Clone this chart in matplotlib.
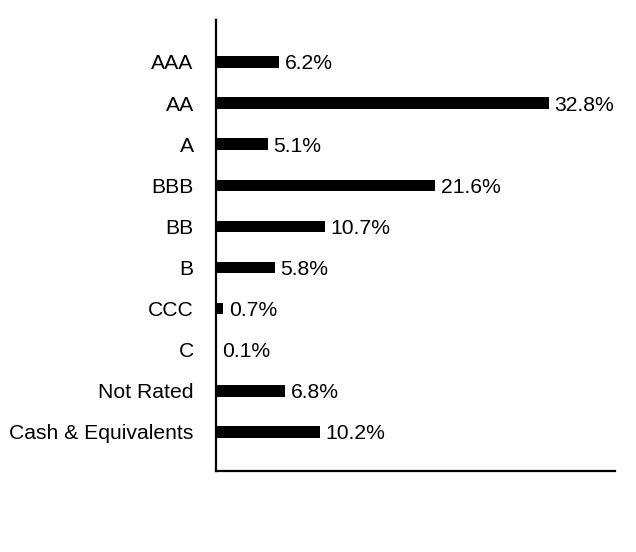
import matplotlib.pyplot as plt

plt.rcParams['font.family'] = ['Liberation Sans', 'DejaVu Sans']

# credit quality breakdown
ratings = ["AAA", "AA", "A", "BBB", "BB", "B", "CCC", "C", "Not Rated", "Cash & Equivalents"]
weights = [6.2, 32.8, 5.1, 21.6, 10.7, 5.8, 0.7, 0.1, 6.8, 10.2]

fig = plt.figure(figsize=(6.36, 5.52), dpi=100)
ax = fig.add_axes([0.3396, 0.1467, 0.6274, 0.8171])

pos = list(range(len(ratings)))
ax.barh(pos, weights, height=0.28, color="black")
for p, w in zip(pos, weights):
    ax.text(w + 0.55, p, f"{w}%", va="center_baseline", ha="left", fontsize=15.2)

ax.set_yticks(pos)
ax.set_yticklabels(ratings, fontsize=15.2, va="center_baseline")
ax.set_xticks([])
ax.set_xlim(0, 39.3)
ax.set_ylim(9.95, -1.02)
ax.tick_params(axis="y", length=0, pad=16)
for s in ["top", "right"]:
    ax.spines[s].set_visible(False)
for s in ["left", "bottom"]:
    ax.spines[s].set_linewidth(1.6)

fig.savefig("out.png", dpi=100)
